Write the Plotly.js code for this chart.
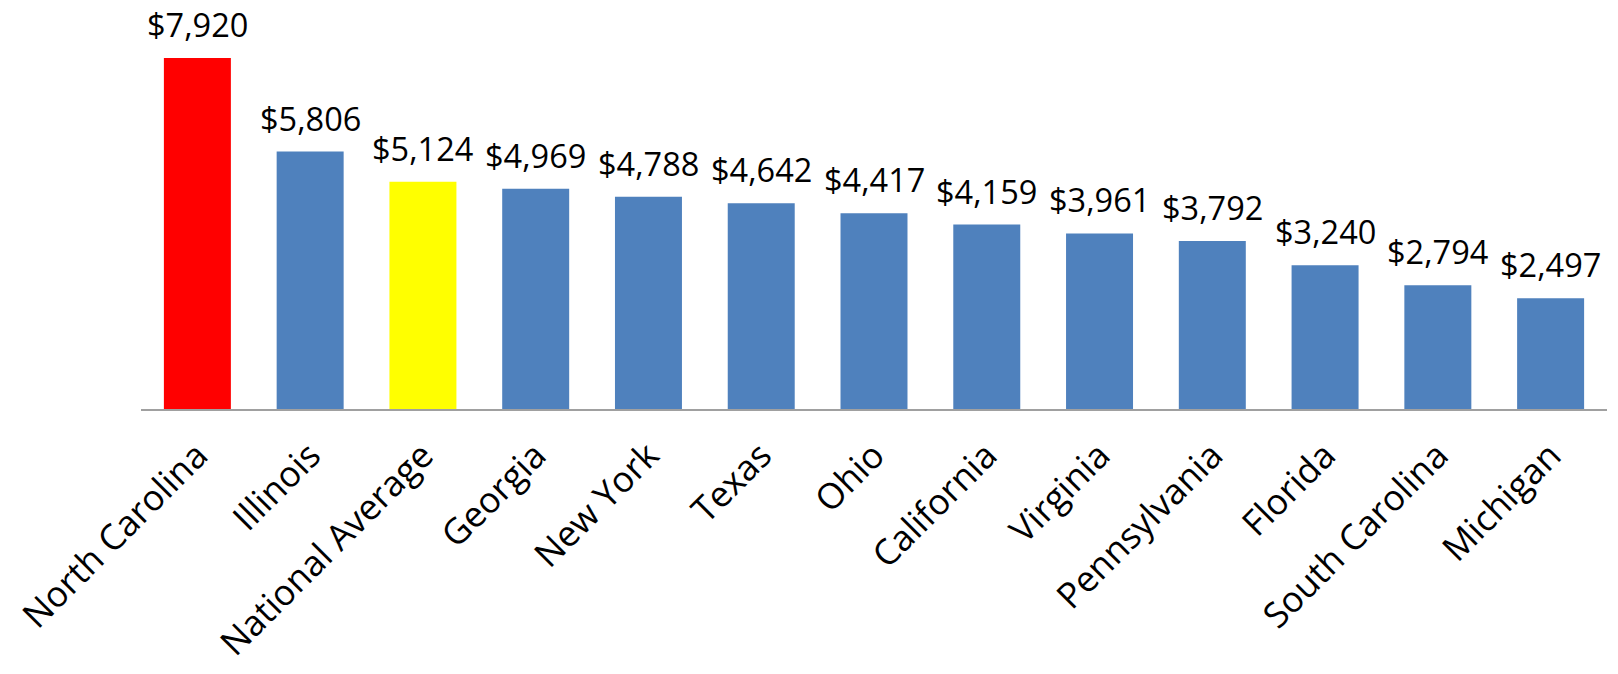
<!DOCTYPE html>
<html>
<head>
<meta charset="utf-8">
<script src="https://cdn.plot.ly/plotly-3.0.1.min.js"></script>
<style>html,body{margin:0;padding:0;background:#fff;}#chart{width:1618px;height:674px;}</style>
</head>
<body>
<div id="chart"></div>
<script>
const states = ["North Carolina","Illinois","National Average","Georgia","New York","Texas","Ohio","California","Virginia","Pennsylvania","Florida","South Carolina","Michigan"];
const amounts = [7920,5806,5124,4969,4788,4642,4417,4159,3961,3792,3240,2794,2497];
const barColors = ["#FF0000","#4F81BD","#FFFF00","#4F81BD","#4F81BD","#4F81BD","#4F81BD","#4F81BD","#4F81BD","#4F81BD","#4F81BD","#4F81BD","#4F81BD"];
const valueLabels = amounts.map(v => "$" + v.toLocaleString("en-US"));

const FONT = "Open Sans, Lato, sans-serif";

const trace = {
  type: "bar",
  x: states,
  y: amounts,
  marker: {color: barColors, line: {width: 0}},
  hoverinfo: "x+y"
};

const annotations = states.map((s, i) => ({
  x: s, y: amounts[i], xref: "x", yref: "y",
  text: valueLabels[i], showarrow: false,
  xanchor: "center", yanchor: "bottom", yshift: 9,
  font: {family: FONT, size: 32.5, color: "#000"}
}));

const layout = {
  width: 1618, height: 674,
  margin: {l: 141, r: 11, t: 10, b: 265, pad: 0},
  paper_bgcolor: "#fff", plot_bgcolor: "#fff",
  bargap: 0.406,
  showlegend: false,
  xaxis: {
    type: "category",
    tickangle: -45,
    tickfont: {family: FONT, size: 35.5, color: "#000"},
    showline: true, linecolor: "#a0a0a0", linewidth: 1.5,
    ticks: "", showgrid: false, zeroline: false,
    ticklabelstandoff: 10
  },
  yaxis: {
    range: [0, 9000],
    visible: false, showgrid: false, zeroline: false
  },
  annotations: annotations
};

Plotly.newPlot("chart", [trace], layout, {displayModeBar: false, staticPlot: true});
</script>
</body>
</html>
